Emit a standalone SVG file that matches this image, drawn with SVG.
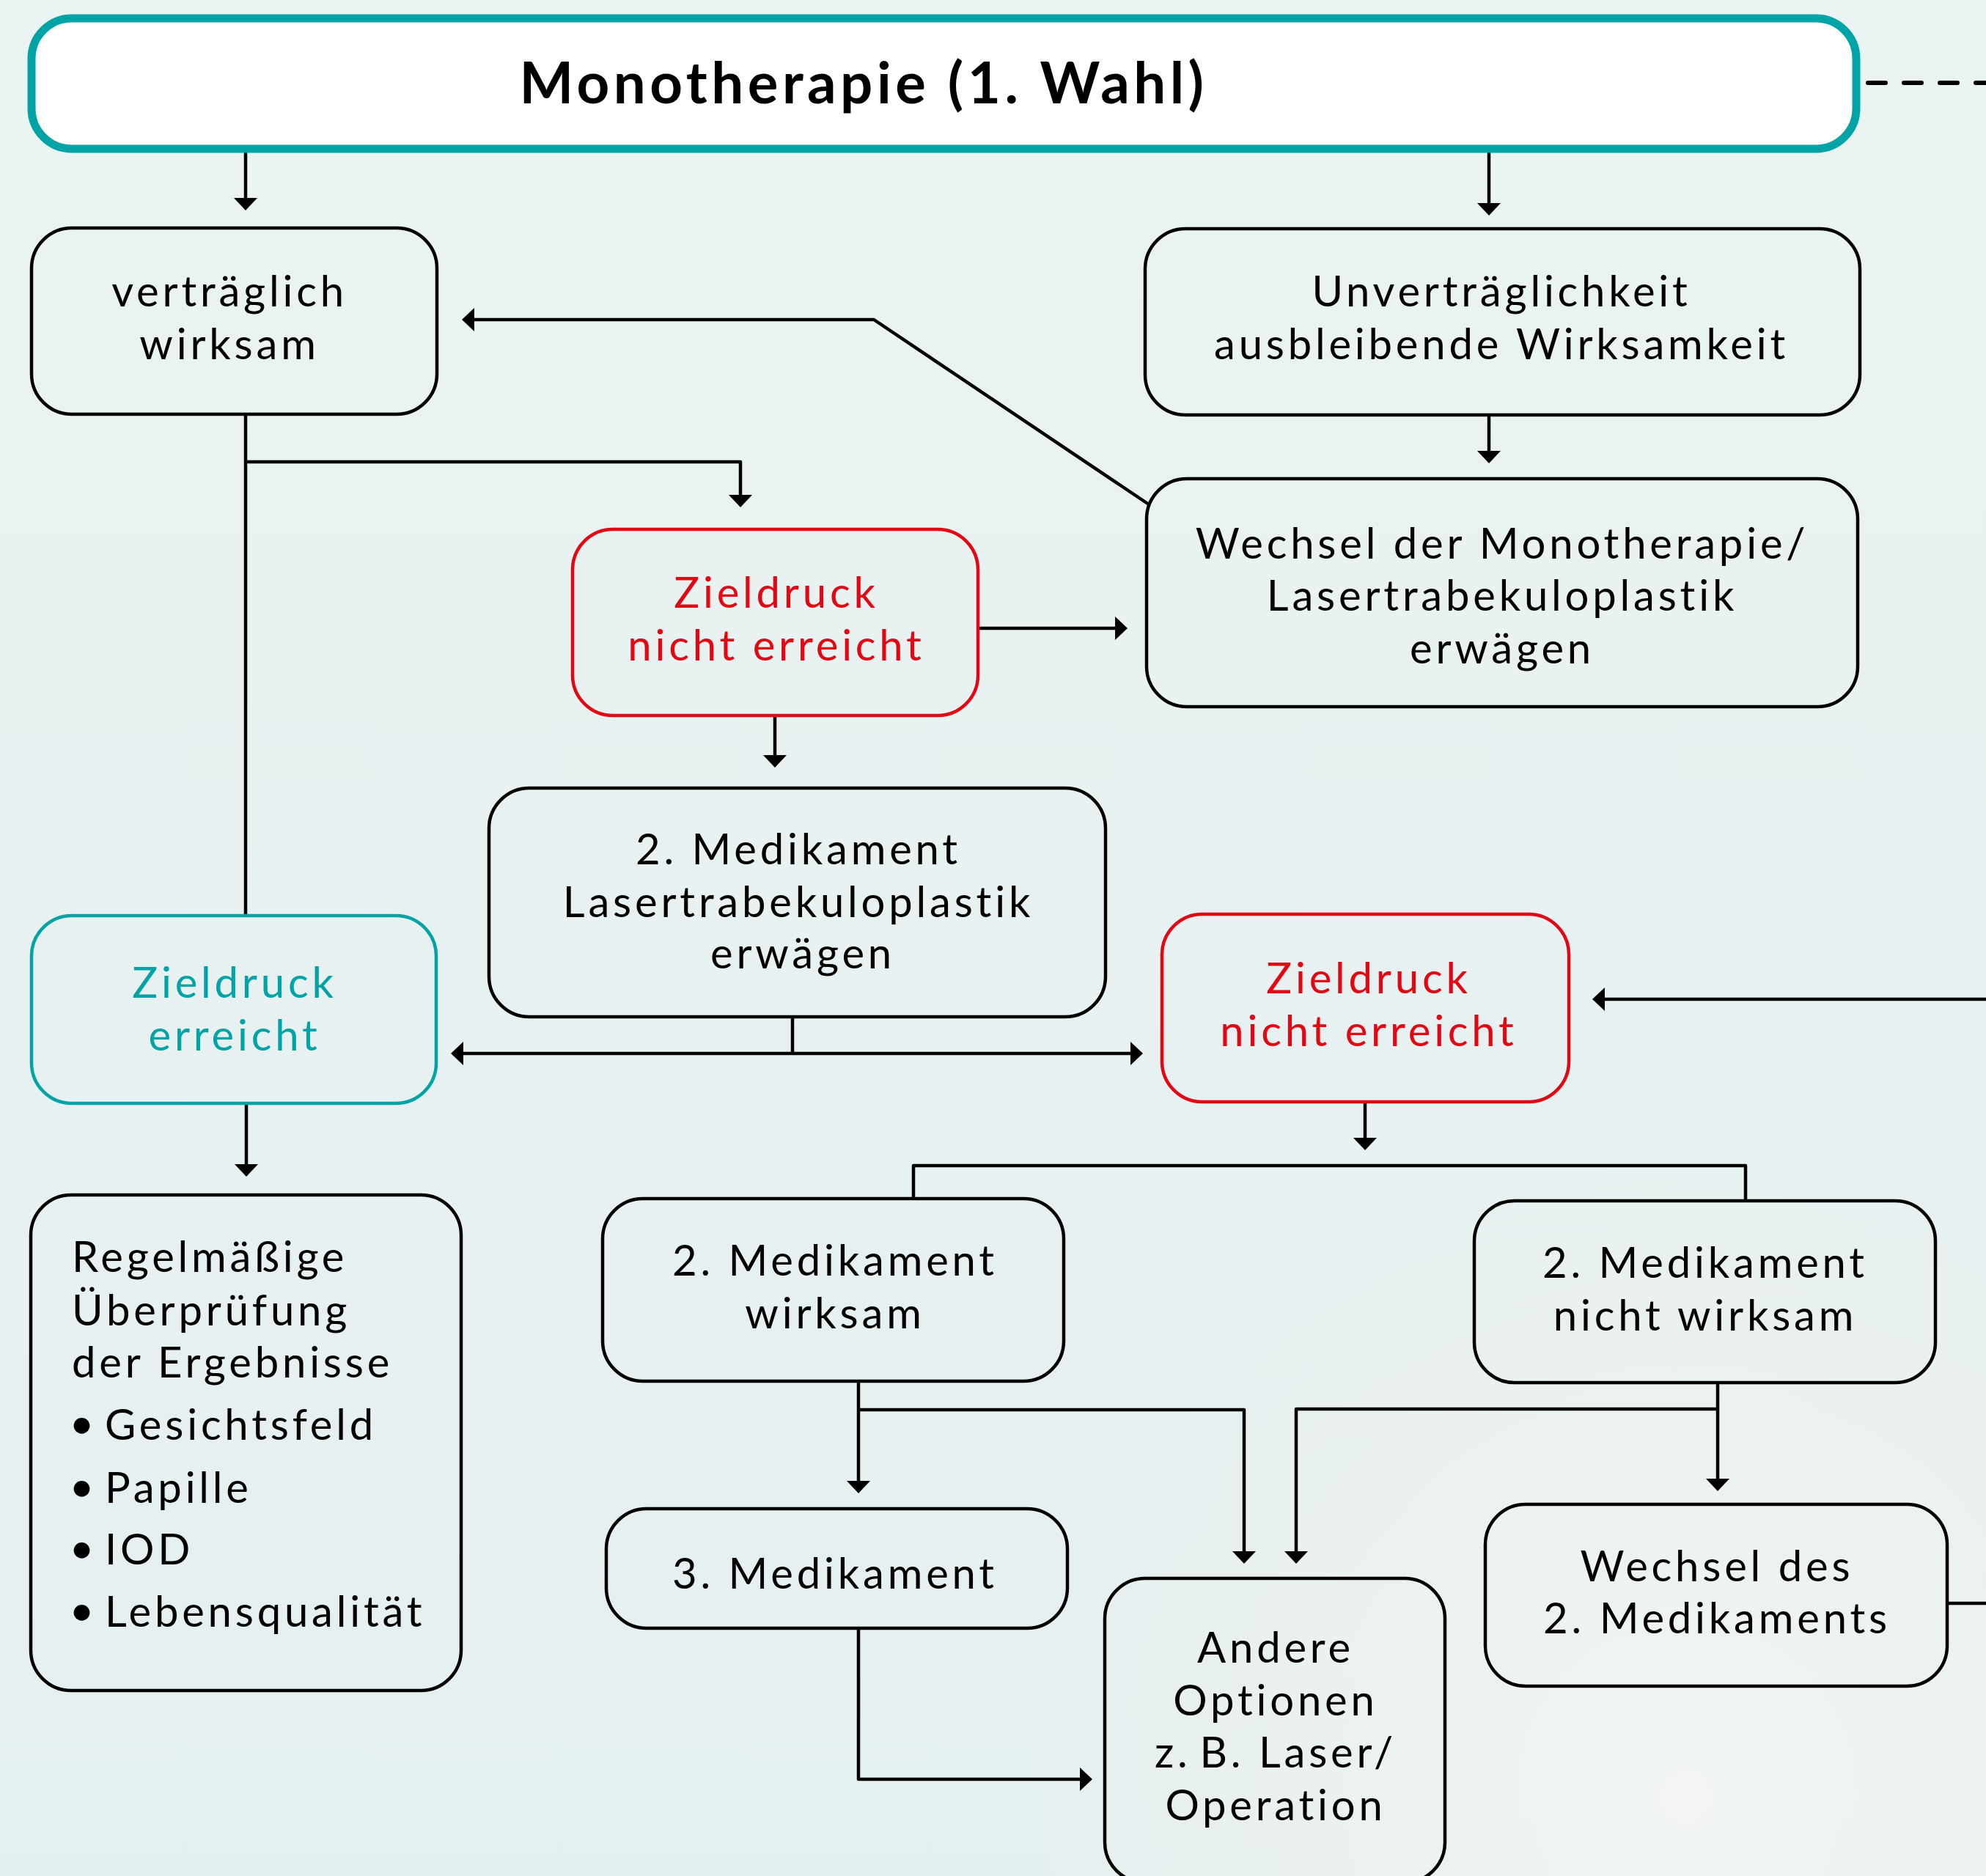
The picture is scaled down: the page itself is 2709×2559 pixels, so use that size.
<svg xmlns="http://www.w3.org/2000/svg" width="2709" height="2559" viewBox="0 0 2709 2559">
<defs>
<linearGradient id="bg" x1="0" y1="0" x2="0" y2="1">
<stop offset="0" stop-color="#EAF4F2"/>
<stop offset="0.6" stop-color="#E8F1F1"/>
<stop offset="1" stop-color="#E4EFEF"/>
</linearGradient>
<radialGradient id="glow" cx="2300" cy="2450" r="900" gradientUnits="userSpaceOnUse">
<stop offset="0" stop-color="#F3F5F1" stop-opacity="0.9"/>
<stop offset="1" stop-color="#F3F5F1" stop-opacity="0"/>
</radialGradient>
<marker id="ah" viewBox="0 0 17 32" refX="5" refY="16" markerWidth="17" markerHeight="32" markerUnits="userSpaceOnUse" orient="auto">
<path d="M0,0 L17,16 L0,32 Z" fill="#000"/>
</marker>
<style>
.box{fill:none;stroke:#000;stroke-width:4.5}
.red{fill:none;stroke:#E30613;stroke-width:4.5}
.teal{fill:none;stroke:#00A3A6;stroke-width:4.5}
.t{font-family:Lato,"Open Sans","Liberation Sans",sans-serif;font-weight:400;font-size:58px;letter-spacing:4.8px;fill:#000;text-anchor:middle}
.tl{text-anchor:start}
.tr{fill:#E30613}
.tt{fill:#00A3A6}
.b{font-weight:700;font-size:50px;letter-spacing:0}
.title{font-family:Lato,"Liberation Sans",sans-serif;font-weight:700;font-size:78px;letter-spacing:5.5px;fill:#000;text-anchor:middle}
.c{fill:none;stroke:#000;stroke-width:4.5;stroke-linejoin:round}
.ca{fill:none;stroke:#000;stroke-width:4.5;stroke-linejoin:round;marker-end:url(#ah)}
</style>
</defs>
<rect x="0" y="0" width="2709" height="2559" fill="url(#bg)"/>
<rect x="0" y="0" width="2709" height="2559" fill="url(#glow)"/>

<g id="connectors">
<path class="ca" d="M335,208 V275"/>
<path class="ca" d="M2031,208 V282"/>
<path class="ca" d="M2031,566 V620"/>
<path class="ca" d="M1567,688 L1192,436 H642"/>
<path class="c" d="M335,566 V1249"/>
<path class="ca" d="M335,630 H1010 V680"/>
<path class="ca" d="M1334,857 H1526"/>
<path class="ca" d="M1057,977 V1035"/>
<path class="c" d="M1081,1387 V1437"/>
<path class="ca" d="M1081,1437 H627"/>
<path class="ca" d="M1081,1437 H1547"/>
<path class="ca" d="M2709,1363 H2184"/>
<path class="ca" d="M336,1505 V1593"/>
<path class="ca" d="M1862,1503 V1557"/>
<path class="c" d="M1246,1635 V1590 H2381 V1640"/>
<path class="ca" d="M1171,1884 V2025"/>
<path class="ca" d="M1171,1923 H1697 V2121"/>
<path class="ca" d="M2343,1886 V2022"/>
<path class="ca" d="M2343,1922 H1768 V2121"/>
<path class="ca" d="M1171,2221 V2427 H1478"/>
<path class="c" d="M2656,2187 H2709"/>
<path d="M2548,113 H2709" fill="none" stroke="#000" stroke-width="6" stroke-linecap="round" stroke-dasharray="24 25"/>
</g>

<g id="n-main">
<rect x="43" y="25" width="2489" height="178" rx="55" fill="#fff" stroke="#00A3A6" stroke-width="11"/>
<text class="title" x="1178" y="141">Monotherapie (1. Wahl)</text>
</g>

<g id="n-vertraeglich">
<rect class="box" x="43" y="311" width="553" height="254" rx="55"/>
<text class="t" x="313" y="418">verträglich</text>
<text class="t" x="313" y="490">wirksam</text>
</g>

<g id="n-unvertraeglich">
<rect class="box" x="1562" y="312" width="975" height="254" rx="55"/>
<text class="t" x="2048" y="418">Unverträglichkeit</text>
<text class="t" x="2048" y="490">ausbleibende Wirksamkeit</text>
</g>

<g id="n-wechsel-mono">
<rect class="box" x="1564" y="653" width="970" height="311" rx="55"/>
<text class="t" x="2049" y="762">Wechsel der Monotherapie/</text>
<text class="t" x="2049" y="833">Lasertrabekuloplastik</text>
<text class="t" x="2049" y="905">erwägen</text>
</g>

<g id="n-nicht-erreicht-1">
<rect class="red" x="781" y="722" width="553" height="254" rx="55"/>
<text class="t tr" x="1059" y="829">Zieldruck</text>
<text class="t tr" x="1059" y="901">nicht erreicht</text>
</g>

<g id="n-med2-laser">
<rect class="box" x="667" y="1075" width="841" height="312" rx="55"/>
<text class="t" x="1089" y="1179">2. Medikament</text>
<text class="t" x="1089" y="1251">Lasertrabekuloplastik</text>
<text class="t" x="1095" y="1321">erwägen</text>
</g>

<g id="n-erreicht">
<rect class="teal" x="43" y="1249" width="552" height="256" rx="55"/>
<text class="t tt" x="320" y="1361">Zieldruck</text>
<text class="t tt" x="320" y="1433">erreicht</text>
</g>

<g id="n-nicht-erreicht-2">
<rect class="red" x="1585" y="1247" width="555" height="256" rx="55"/>
<text class="t tr" x="1867" y="1355">Zieldruck</text>
<text class="t tr" x="1867" y="1427">nicht erreicht</text>
</g>

<g id="n-regelmaessig">
<rect class="box" x="42" y="1630" width="587" height="676" rx="55"/>
<text class="t tl" x="98" y="1735">Regelmäßige</text>
<text class="t tl" x="98" y="1808">Überprüfung</text>
<text class="t tl" x="98" y="1879">der Ergebnisse</text>
<text class="t tl" x="97" y="1960"><tspan class="b">•</tspan><tspan x="143" y="1964">Gesichtsfeld</tspan></text>
<text class="t tl" x="97" y="2046"><tspan class="b">•</tspan><tspan x="143" y="2050">Papille</tspan></text>
<text class="t tl" x="97" y="2130"><tspan class="b">•</tspan><tspan x="143" y="2134">IOD</tspan></text>
<text class="t tl" x="97" y="2215"><tspan class="b">•</tspan><tspan x="143" y="2219">Lebensqualität</tspan></text>
</g>

<g id="n-med2-wirksam">
<rect class="box" x="822" y="1635" width="629" height="249" rx="55"/>
<text class="t" x="1139" y="1740">2. Medikament</text>
<text class="t" x="1139" y="1812">wirksam</text>
</g>

<g id="n-med3">
<rect class="box" x="827" y="2058" width="629" height="163" rx="55"/>
<text class="t" x="1139" y="2167">3. Medikament</text>
</g>

<g id="n-med2-nicht">
<rect class="box" x="2011" y="1638" width="629" height="248" rx="55"/>
<text class="t" x="2326" y="1743">2. Medikament</text>
<text class="t" x="2326" y="1815">nicht wirksam</text>
</g>

<g id="n-wechsel-med2">
<rect class="box" x="2026" y="2052" width="630" height="248" rx="55"/>
<text class="t" x="2342" y="2157">Wechsel des</text>
<text class="t" x="2342" y="2228">2. Medikaments</text>
</g>

<g id="n-andere">
<rect class="box" x="1507" y="2153" width="464" height="415" rx="55"/>
<text class="t" x="1740" y="2268">Andere</text>
<text class="t" x="1740" y="2340">Optionen</text>
<text class="t" x="1740" y="2411">z.&#8201;B. Laser/</text>
<text class="t" x="1740" y="2483">Operation</text>
</g>
</svg>
